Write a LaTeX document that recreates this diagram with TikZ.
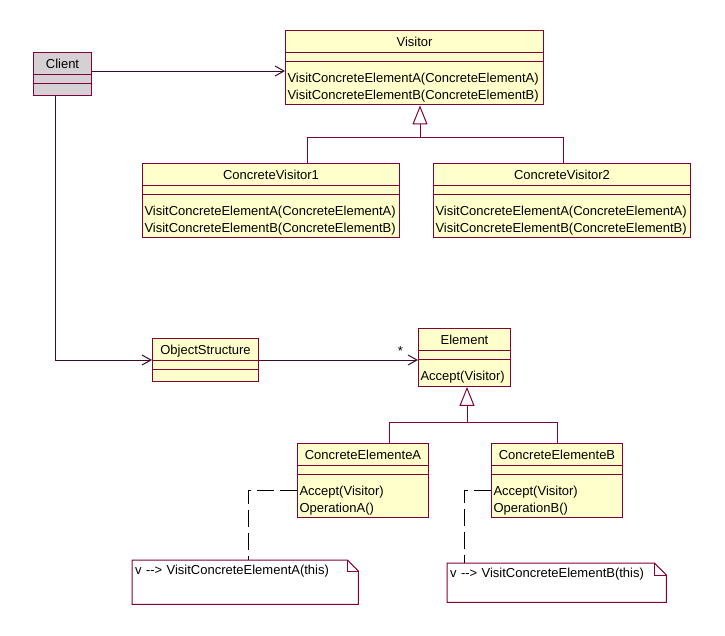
\documentclass[tikz,border=0pt]{standalone}
\usepackage{fontspec}
\setmainfont{Liberation Sans}
\usetikzlibrary{shapes.multipart,arrows.meta}
\definecolor{roseline}{HTML}{840038}
\definecolor{rosedark}{HTML}{3C0A2A}
\definecolor{rosefill}{HTML}{FFFFCC}
\definecolor{rosegray}{HTML}{D4D0D4}
\newcommand{\umlfont}{\fontsize{13pt}{16.5pt}\selectfont}
\newcommand{\umlname}[1]{\rule[-5.8pt]{0pt}{21pt}#1}
\newcommand{\umlfirst}{\rule{0pt}{20.5pt}}
\newcommand{\umllast}{\rule[-5.4pt]{0pt}{5.4pt}}
\newcommand{\umlempty}{\hphantom{X}\rule{0pt}{11pt}}
\newcommand{\calls}{\mbox{-}\mbox{-}>}

\begin{document}
\begin{tikzpicture}[x=1pt,y=-1pt,
  umlclass/.style={draw=roseline, fill=rosefill, line width=1pt, rectangle split, rectangle split parts=3,
    rectangle split part align={center,left,left}, rectangle split empty part height=8pt,
    rectangle split empty part depth=0pt, inner xsep=2pt, inner ysep=0pt, anchor=north west,
    align=left, font=\umlfont},
  notebox/.style={inner xsep=3pt, inner ysep=0pt, anchor=north west, align=left, font=\umlfont, text height=14.6pt},
  noteline/.style={draw=roseline, line width=1pt},
  assoc/.style={draw=rosedark, line width=1pt, -{Straight Barb[length=9pt,width=10pt]}},
  genline/.style={draw=roseline, line width=1pt},
  notelink/.style={draw=black, line width=1pt, dash pattern=on 17pt off 6pt}]
  \useasboundingbox (0,0) rectangle (725,635);

  % classes
  \node[umlclass, fill=rosegray, minimum width=58pt] (client) at (33,52) {\umlname{Client}\nodepart{two}\nodepart{three}\umlempty};
  \node[umlclass, minimum width=258pt] (visitor) at (285,30) {\umlname{Visitor}\nodepart{two}\nodepart{three}\umlfirst VisitConcreteElementA(ConcreteElementA)\\VisitConcreteElementB(ConcreteElementB)\umllast};
  \node[umlclass, minimum width=257pt] (cv1) at (142,163) {\umlname{ConcreteVisitor1}\nodepart{two}\nodepart{three}\umlfirst VisitConcreteElementA(ConcreteElementA)\\VisitConcreteElementB(ConcreteElementB)\umllast};
  \node[umlclass, minimum width=257pt] (cv2) at (433,163) {\umlname{ConcreteVisitor2}\nodepart{two}\nodepart{three}\umlfirst VisitConcreteElementA(ConcreteElementA)\\VisitConcreteElementB(ConcreteElementB)\umllast};
  \node[umlclass, minimum width=106pt] (objstruct) at (152,338) {\umlname{ObjectStructure}\nodepart{two}\nodepart{three}\umlempty};
  \node[umlclass, minimum width=92pt] (element) at (418,328) {\umlname{Element}\nodepart{two}\nodepart{three}\umlfirst Accept(Visitor)\umllast};
  \node[umlclass, minimum width=131pt] (ceA) at (297,443) {\umlname{ConcreteElementeA}\nodepart{two}\nodepart{three}\umlfirst Accept(Visitor)\\OperationA()\umllast};
  \node[umlclass, minimum width=131pt] (ceB) at (491,443) {\umlname{ConcreteElementeB}\nodepart{two}\nodepart{three}\umlfirst Accept(Visitor)\\OperationB()\umllast};

  % notes
  \node[notebox, text width=220pt, text depth=29.4pt] (noteA) at (132,560) {v \calls{} VisitConcreteElementA(this)};
  \node[notebox, text width=213pt, text depth=24.4pt] (noteB) at (447,563) {v \calls{} VisitConcreteElementB(this)};
  \foreach \n/\f in {noteA/11pt, noteB/12pt} {
    \draw[noteline] (\n.north west) -- ([xshift=-\f]\n.north east) -- ([yshift=-\f]\n.north east)
      -- (\n.south east) -- (\n.south west) -- cycle;
    \draw[noteline] ([xshift=-\f]\n.north east) |- ([yshift=-\f]\n.north east);
  }

  % associations
  \coordinate (clientout) at ([yshift=3pt]client.east);
  \draw[assoc] (clientout) -- (clientout -| visitor.west);
  \coordinate (clientdown) at ([xshift=-7pt]client.south);
  \draw[assoc] (clientdown) |- (objstruct.west);
  \draw[assoc] (objstruct.east) -- (objstruct.east -| element.west)
    node[pos=0.89, above, inner sep=0pt, yshift=4pt, font=\umlfont] (many) {*};

  % inheritance
  \coordinate (vbranch) at (420,137);
  \draw[genline, -{Triangle[open,length=19pt,width=15pt]}] ([xshift=36pt]cv1.north) |- (vbranch) -- (vbranch |- visitor.south);
  \draw[genline] ([xshift=1.5pt]cv2.north) |- (vbranch);
  \coordinate (ebranch) at (467,422);
  \draw[genline, -{Triangle[open,length=19pt,width=15pt]}] ([xshift=26.5pt]ceA.north) |- (ebranch) -- (ebranch |- element.south);
  \draw[genline] (ceB.north) |- (ebranch);

  % note links
  \coordinate (bendA) at (248,490);
  \draw[notelink] (bendA -| ceA.west) -- (bendA) -- (bendA |- noteA.north);
  \coordinate (bendB) at (464,490);
  \draw[notelink] (bendB -| ceB.west) -- (bendB) -- (bendB |- noteB.north);
\end{tikzpicture}
\end{document}
